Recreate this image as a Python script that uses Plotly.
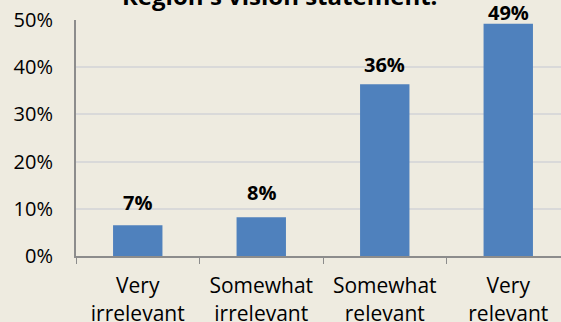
import plotly.graph_objects as go

categories = ["Very<br>irrelevant", "Somewhat<br>irrelevant", "Somewhat<br>relevant", "Very<br>relevant"]
values = [0.065, 0.082, 0.364, 0.492]
labels = ["7%", "8%", "36%", "49%"]
label_shift = [23, 25, 20, 11]
title_text = "Region's vision statement."
y_ticks = [0, 0.1, 0.2, 0.3, 0.4, 0.5]
y_tick_labels = ["0%", "10%", "20%", "30%", "40%", "50%"]

FONT = "Open Sans"
BG = "#EEEBE0"

fig = go.Figure(go.Bar(
    x=categories, y=values, width=0.4,
    marker=dict(color="#4F81BD", line=dict(width=0)),
))

for c, v, t, s in zip(categories, values, labels, label_shift):
    fig.add_annotation(x=c, y=v, text="<b>%s</b>" % t, showarrow=False,
                       yanchor="middle", yshift=s,
                       font=dict(family=FONT, size=20, color="#000000"))

fig.add_annotation(xref="paper", yref="paper", x=0.419, y=1.0, yanchor="bottom",
                   yshift=6, text="<b>%s</b>" % title_text, showarrow=False,
                   font=dict(family=FONT, size=24, color="#000000"))

fig.update_layout(
    width=561, height=322,
    margin=dict(l=76, r=0, t=20, b=66, pad=0),
    paper_bgcolor=BG, plot_bgcolor=BG,
    showlegend=False,
    font=dict(family=FONT, size=20, color="#000000"),
    bargap=0.6,
)
fig.update_xaxes(
    range=[-0.5, 3.427], showline=True, linecolor="#8C8C8C", linewidth=2,
    ticks="outside", tickson="boundaries", ticklen=6, tickcolor="#8C8C8C", tickwidth=1,
    showgrid=False, ticklabelstandoff=10, automargin=False,
    tickfont=dict(family=FONT, size=21, color="#000000"),
)
fig.update_yaxes(
    range=[0, 0.5], tickvals=y_ticks, ticktext=y_tick_labels,
    showline=True, linecolor="#8C8C8C", linewidth=2,
    showgrid=True, gridcolor="#D9D9D9", gridwidth=2, zeroline=False,
    ticks="", ticklabelstandoff=17, automargin=False,
    tickfont=dict(family=FONT, size=20, color="#000000"),
)

fig.write_html("out.html")
